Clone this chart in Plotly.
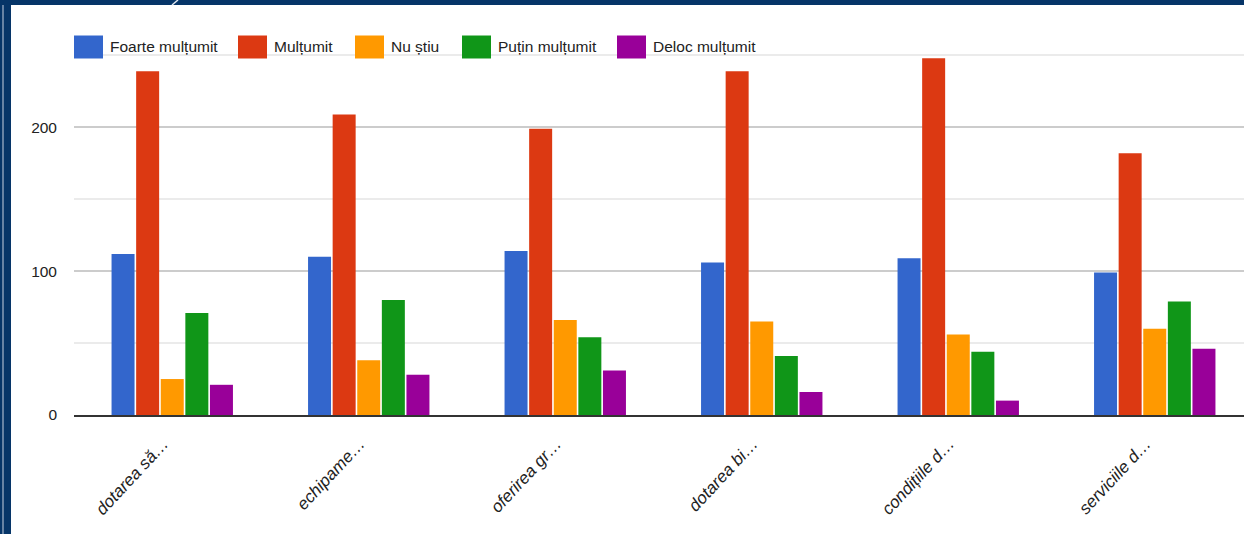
import plotly.graph_objects as go

# ---------------- data ----------------
categories = ["dotarea să…", "echipame…", "oferirea gr…", "dotarea bi…", "condițiile d…", "serviciile d…"]
series_names = ["Foarte mulțumit", "Mulțumit", "Nu știu", "Puțin mulțumit", "Deloc mulțumit"]
foarte_multumit = [112, 110, 114, 106, 109, 99]
multumit = [239, 209, 199, 239, 248, 182]
nu_stiu = [25, 38, 66, 65, 56, 60]
putin_multumit = [71, 80, 54, 41, 44, 79]
deloc_multumit = [21, 28, 31, 16, 10, 46]
y_tick_values = [0, 100, 200]
y_tick_labels = ["0", "100", "200"]

series_values = [foarte_multumit, multumit, nu_stiu, putin_multumit, deloc_multumit]
colors = ["#3366cc", "#dc3912", "#ff9900", "#109618", "#990099"]

FONT = "Liberation Sans, Arial, sans-serif"
W, H = 1244, 534
L, R, T, B = 74, 0, 54, 119
PW, PH = W - L - R, H - T - B
CAT_W = 196.5  # pixels per category


def px_x(p):
    return (p - L) / PW


def px_y(p):
    return (H - B - p) / PH


fig = go.Figure()
for name, vals, col in zip(series_names, series_values, colors):
    fig.add_trace(go.Bar(x=categories, y=vals, name=name, marker=dict(color=col, line=dict(width=0)),
                         showlegend=False))

shapes = []
annotations = []
# custom legend (wide swatches like the original)
swatch_left = [74, 238, 355, 462, 617]
for name, col, sx in zip(series_names, colors, swatch_left):
    shapes.append(dict(type="rect", xref="paper", yref="paper",
                       x0=px_x(sx), x1=px_x(sx + 29), y0=px_y(58.5), y1=px_y(35.5),
                       fillcolor=col, line=dict(width=0), layer="above"))
    annotations.append(dict(text=name, xref="paper", yref="paper", x=px_x(sx + 34), y=px_y(47),
                            xanchor="left", yanchor="middle", showarrow=False,
                            font=dict(family=FONT, size=15.5, color="#222222")))

# navy frame
navy = "#063568"
shapes += [
    dict(type="rect", xref="paper", yref="paper", x0=px_x(0), x1=px_x(W), y0=px_y(5), y1=px_y(0),
         fillcolor=navy, line=dict(width=0), layer="above"),
    dict(type="rect", xref="paper", yref="paper", x0=px_x(0), x1=px_x(11), y0=px_y(H), y1=px_y(0),
         fillcolor=navy, line=dict(width=0), layer="above"),
    dict(type="line", xref="paper", yref="paper", x0=px_x(3), x1=px_x(3), y0=px_y(H), y1=px_y(5),
         line=dict(color="#c8d2e0", width=1), layer="above"),
    dict(type="line", xref="paper", yref="paper", x0=px_x(172), x1=px_x(178), y0=px_y(5), y1=px_y(0),
         line=dict(color="#dfe6ef", width=1.5), layer="above"),
]

fig.update_layout(
    width=W, height=H, autosize=False,
    margin=dict(l=L, r=R, t=T, b=B, pad=0),
    paper_bgcolor="white", plot_bgcolor="white",
    barmode="group", bargap=0.374, bargroupgap=0.065,
    font=dict(family=FONT, size=15.5, color="#222222"),
    shapes=shapes, annotations=annotations,
    xaxis=dict(range=[-0.5, -0.5 + PW / CAT_W], showgrid=False, showline=True,
               linecolor="#333333", linewidth=2, ticks="", tickangle=-47,
               ticklabelstandoff=10, ticklabelshift=-9,
               tickfont=dict(family=FONT, size=17, color="#222222", style="italic")),
    yaxis=dict(range=[0, 251], tickmode="array", tickvals=y_tick_values, ticktext=y_tick_labels,
               showgrid=True, gridcolor="#cccccc", gridwidth=1.5, zeroline=False, showline=False,
               ticks="", ticklabelstandoff=16,
               tickfont=dict(family=FONT, size=15.5, color="#222222"),
               minor=dict(dtick=50, tick0=0, showgrid=True, gridcolor="#ebebeb", gridwidth=1.5)),
)

fig.write_html("out.html", config={"displayModeBar": False},
               post_script="document.body.style.margin='0';document.body.style.overflow='hidden';")
